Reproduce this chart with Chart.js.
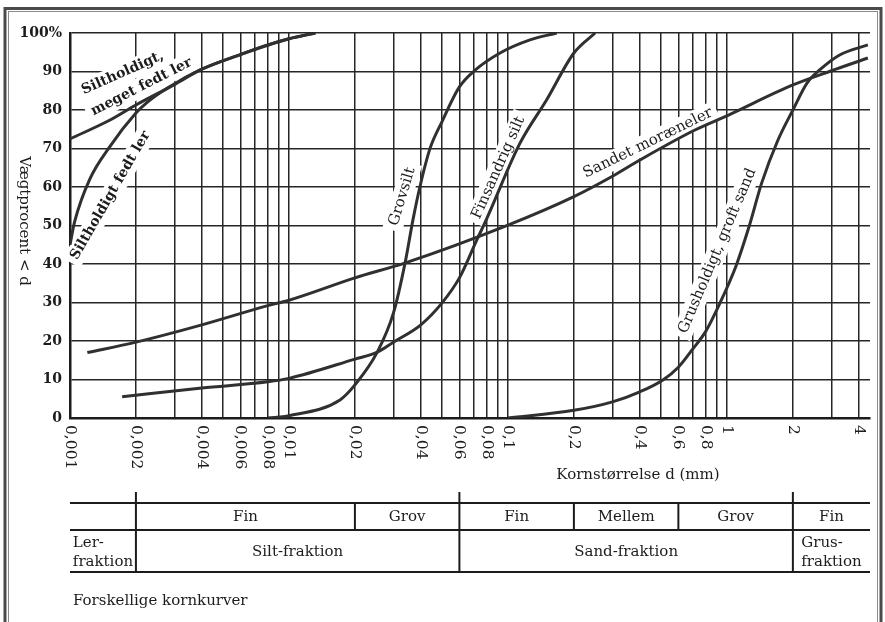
<!DOCTYPE html>
<html>
<head>
<meta charset="utf-8">
<script src="https://cdn.jsdelivr.net/npm/chart.js@4.4.1/dist/chart.umd.min.js"></script>
<style>
  html, body { margin: 0; padding: 0; background: #fff; }
  #wrap { width: 885px; height: 622px; }
</style>
</head>
<body>
<div id="wrap"><canvas id="kornChart" width="885" height="622"></canvas></div>
<script>
const SERIF = '"DejaVu Serif", "Liberation Serif", serif';
const INK = '#1c1c1c';
const GRID = '#262626';

// x-akse (kornstørrelse, mm) - gitterlinjer og tal
const gridValues = [0.001, 0.002, 0.003, 0.004, 0.005, 0.006, 0.007, 0.008, 0.009,
  0.01, 0.02, 0.03, 0.04, 0.05, 0.06, 0.07, 0.08, 0.09,
  0.1, 0.2, 0.3, 0.4, 0.5, 0.6, 0.7, 0.8, 0.9,
  1, 2, 3, 4];
const tickValues = [0.001, 0.002, 0.004, 0.006, 0.008, 0.01, 0.02, 0.04, 0.06, 0.08, 0.1, 0.2, 0.4, 0.6, 0.8, 1, 2, 4];
const tickLabels = ['0,001', '0,002', '0,004', '0,006', '0,008', '0,01', '0,02', '0,04', '0,06', '0,08', '0,1', '0,2', '0,4', '0,6', '0,8', '1', '2', '4'];

// kornkurver (vægtprocent < d)
const megetFedtX = [0.001, 0.0015, 0.002, 0.003, 0.004, 0.006, 0.008, 0.01, 0.0132];
const megetFedtY = [72.5, 77.2, 81.3, 86.6, 90.6, 94.4, 96.9, 98.5, 100];

const fedtLerX = [0.001, 0.00105, 0.00123, 0.00152, 0.002, 0.00225, 0.0028, 0.004, 0.006, 0.01, 0.0132];
const fedtLerY = [45, 51, 62, 70.5, 79.2, 82, 85.8, 90.6, 94.4, 98.5, 100];

const moraeneX = [0.0012, 0.002, 0.004, 0.008, 0.01, 0.02, 0.034, 0.1, 0.2, 0.3, 0.4, 0.714, 1, 2, 3, 4.4];
const moraeneY = [17, 19.7, 24.2, 29.2, 30.6, 36.4, 40.3, 50.1, 57.5, 62.8, 67, 74.8, 78.5, 86.5, 90.2, 93.5];

const finsandX = [0.00173, 0.004, 0.008, 0.01, 0.02, 0.0253, 0.03, 0.04, 0.05, 0.06, 0.072, 0.08, 0.1135, 0.15, 0.2, 0.25];
const finsandY = [5.5, 7.8, 9.4, 10.3, 15.3, 17.1, 19.7, 24.2, 29.9, 36.4, 46.2, 51.8, 71.4, 82.6, 94.8, 100];

const grovsiltX = [0.008, 0.01, 0.0171, 0.02, 0.0253, 0.03, 0.0339, 0.0368, 0.0396, 0.044, 0.05, 0.06, 0.071, 0.092, 0.126, 0.167];
const grovsiltY = [0, 0.6, 4.7, 8.6, 17.1, 27.3, 40.3, 51.4, 60, 69.9, 77, 86, 90.4, 94.8, 98.2, 100];

const grusX = [0.1, 0.2, 0.3, 0.4, 0.51, 0.6, 0.7, 0.8, 0.93, 1.1, 1.26, 1.44, 1.71, 2, 2.32, 2.65, 3.27, 4.4];
const grusY = [0, 2, 4.2, 6.8, 9.9, 13.2, 18, 22.5, 29.9, 39.5, 49.6, 61, 72.2, 80, 87, 90.4, 94.3, 96.9];

// fraktionstabel under diagrammet
const subBounds = [0.002, 0.02, 0.06, 0.2, 0.6, 2, 4.5];
const subNames = ['Fin', 'Grov', 'Fin', 'Mellem', 'Grov', 'Fin'];
const fracBounds = [0.001, 0.002, 0.06, 2, 4.5];
const fracNames = [['Ler-', 'fraktion'], ['Silt-fraktion'], ['Sand-fraktion'], ['Grus-', 'fraktion']];

// tekster langs kurverne (placeret i dataenheder)
const curveLabels = [
  { text: 'Siltholdigt,', x: 0.00174, y: 89.6, angle: -24, bold: true },
  { text: 'meget fedt ler', x: 0.00212, y: 86.0, angle: -27, bold: true },
  { text: 'Siltholdigt fedt ler', x: 0.00153, y: 57.8, angle: -60, bold: true },
  { text: 'Grovsilt', x: 0.0329, y: 57.5, angle: -73 },
  { text: 'Finsandrig silt', x: 0.0905, y: 65, angle: -66 },
  { text: 'Sandet moræneler', x: 0.436, y: 71.4, angle: -26 },
  { text: 'Grusholdigt, groft sand', x: 0.905, y: 43.4, angle: -67 }
];

const toPoints = (xs, ys) => xs.map((v, i) => ({ x: v, y: ys[i] }));
const curve = (xs, ys) => ({
  data: toPoints(xs, ys),
  showLine: true,
  borderColor: '#303030',
  borderWidth: 3,
  pointRadius: 0,
  cubicInterpolationMode: 'monotone',
  fill: false
});

function labelFont(l) {
  return l.bold ? 'bold 14px ' + SERIF : '15px ' + SERIF;
}

const curveLabelPlugin = {
  id: 'curveLabels',
  beforeDatasetsDraw(chart) {
    const { ctx, scales: { x, y } } = chart;
    curveLabels.forEach(l => {
      ctx.save();
      ctx.translate(x.getPixelForValue(l.x), y.getPixelForValue(l.y));
      ctx.rotate(l.angle * Math.PI / 180);
      ctx.font = labelFont(l);
      const w = ctx.measureText(l.text).width;
      ctx.fillStyle = '#fff';
      ctx.fillRect(-w / 2 - 5, -10, w + 10, 20);
      ctx.restore();
    });
  },
  afterDatasetsDraw(chart) {
    const { ctx, scales: { x, y } } = chart;
    curveLabels.forEach(l => {
      ctx.save();
      ctx.translate(x.getPixelForValue(l.x), y.getPixelForValue(l.y));
      ctx.rotate(l.angle * Math.PI / 180);
      ctx.font = labelFont(l);
      ctx.fillStyle = INK;
      ctx.textAlign = 'center';
      ctx.textBaseline = 'middle';
      ctx.fillText(l.text, 0, 0);
      ctx.restore();
    });
  }
};

const extrasPlugin = {
  id: 'extras',
  afterDraw(chart) {
    const { ctx, scales: { x } } = chart;
    const px = v => x.getPixelForValue(v);
    ctx.save();

    // x-tal, drejet
    ctx.fillStyle = INK;
    ctx.font = '15.5px ' + SERIF;
    ctx.textAlign = 'left';
    ctx.textBaseline = 'middle';
    tickValues.forEach((v, i) => {
      ctx.save();
      ctx.translate(px(v), 425);
      ctx.rotate(Math.PI / 2);
      ctx.fillText(tickLabels[i], 0, 0);
      ctx.restore();
    });

    // aksetitler
    ctx.font = '15px ' + SERIF;
    ctx.textAlign = 'center';
    ctx.fillText('Kornstørrelse d (mm)', 638, 475);
    ctx.save();
    ctx.translate(24, 221);
    ctx.rotate(Math.PI / 2);
    ctx.fillText('Vægtprocent < d', 0, 0);
    ctx.restore();

    // tabel
    ctx.strokeStyle = INK;
    ctx.lineWidth = 2;
    const left = px(0.001), right = px(4.5);
    [503, 530, 572].forEach(yy => {
      ctx.beginPath(); ctx.moveTo(left, yy); ctx.lineTo(right, yy); ctx.stroke();
    });
    fracBounds.slice(1, -1).forEach(v => {
      ctx.beginPath(); ctx.moveTo(px(v), 492); ctx.lineTo(px(v), 572); ctx.stroke();
    });
    [0.02, 0.2, 0.6].forEach(v => {
      ctx.beginPath(); ctx.moveTo(px(v), 503); ctx.lineTo(px(v), 530); ctx.stroke();
    });
    subNames.forEach((n, i) => {
      ctx.fillText(n, (px(subBounds[i]) + px(subBounds[i + 1])) / 2, 517);
    });
    fracNames.forEach((lines, i) => {
      const cx = (px(fracBounds[i]) + px(fracBounds[i + 1])) / 2;
      if (lines.length === 1) {
        ctx.textAlign = 'center';
        ctx.fillText(lines[0], cx, 552);
      } else {
        const w = Math.max(...lines.map(t => ctx.measureText(t).width));
        ctx.textAlign = 'left';
        ctx.fillText(lines[0], Math.max(cx - w / 2, left + 2), 543);
        ctx.fillText(lines[1], Math.max(cx - w / 2, left + 2), 562);
      }
    });

    // billedtekst
    ctx.textAlign = 'left';
    ctx.fillText('Forskellige kornkurver', 73, 601);

    // ramme
    ctx.strokeStyle = '#4a4a4a';
    ctx.lineWidth = 3;
    ctx.strokeRect(5, 8.5, 876, 640);
    ctx.strokeStyle = '#8a8a8a';
    ctx.lineWidth = 1;
    ctx.strokeRect(8.5, 11.5, 869, 640);
    ctx.restore();
  }
};

new Chart(document.getElementById('kornChart').getContext('2d'), {
  type: 'scatter',
  data: {
    datasets: [
      curve(megetFedtX, megetFedtY),
      curve(fedtLerX, fedtLerY),
      curve(moraeneX, moraeneY),
      curve(finsandX, finsandY),
      curve(grovsiltX, grovsiltY),
      curve(grusX, grusY)
    ]
  },
  options: {
    responsive: false,
    animation: false,
    layout: { padding: { top: 33, right: 15, bottom: 0, left: 0 } },
    plugins: { legend: { display: false }, tooltip: { enabled: false } },
    scales: {
      x: {
        type: 'logarithmic',
        min: 0.001,
        max: 4.5,
        afterBuildTicks: s => { s.ticks = gridValues.map(v => ({ value: v })); },
        afterFit: s => { s.height = 204; },
        ticks: { display: false },
        grid: { color: GRID, lineWidth: 1.5, drawTicks: false },
        border: { color: INK, width: 2.5 }
      },
      y: {
        min: 0,
        max: 100,
        afterFit: s => { s.width = 70; },
        ticks: {
          stepSize: 10,
          padding: 8,
          color: INK,
          font: { family: SERIF, size: 14, weight: 'bold' },
          callback: v => v === 100 ? '100%' : v
        },
        grid: { color: GRID, lineWidth: 1.5, drawTicks: false },
        border: { color: INK, width: 2.5 }
      }
    }
  },
  plugins: [curveLabelPlugin, extrasPlugin]
});
</script>
</body>
</html>
